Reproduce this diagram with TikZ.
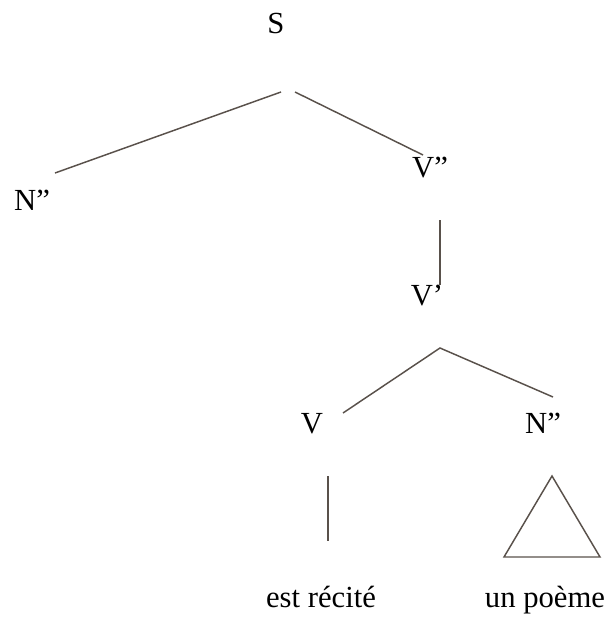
\documentclass[tikz,border=0pt]{standalone}
\usepackage{fontspec}
\setmainfont{Liberation Serif}
\definecolor{branch}{RGB}{89,81,75}

\begin{document}
\begin{tikzpicture}[
  x=0.75pt, y=-0.75pt,
  cat/.style={anchor=base, inner sep=0pt, font=\fontsize{23}{27}\selectfont},
  link/.style={draw=branch, line width=1.1pt},
]
  \useasboundingbox (0,0) rectangle (608,621);

  % ═══ Category labels (placed on their baselines) ═══
  \node[cat] (s)     at (276,33)  {S};
  \node[cat] (np_s)  at (32,210)  {N”};
  \node[cat] (vpp)   at (430,177) {V”};
  \node[cat] (vp)    at (427,305) {V’};
  \node[cat] (v)     at (312,433) {V};
  \node[cat] (np_o)  at (543,433) {N”};
  % Words
  \node[cat] (w_v)   at (321,607) {est récité};
  \node[cat] (w_np)  at (545,607) {un poème};

  % ═══ Branch end points ═══
  \coordinate (s_l)    at (281,92);
  \coordinate (np_s_t) at (55,173);
  \coordinate (s_r)    at (295,92);
  \coordinate (vpp_t)  at (423,155);
  \coordinate (vpp_b)  at (440,220);
  \coordinate (vp_t)   at (440,285);
  \coordinate (vp_b)   at (440,348);
  \coordinate (v_t)    at (343,413);
  \coordinate (np_o_t) at (553,397);
  \coordinate (v_b)    at (328,476);
  \coordinate (w_v_t)  at (328,541);
  \coordinate (tri_t)  at (552,476);
  \coordinate (tri_l)  at (504,557);
  \coordinate (tri_r)  at (600,557);

  % ═══ Branches ═══
  \draw[link] (s_l) -- (np_s_t);
  \draw[link] (s_r) -- (vpp_t);
  \draw[link] (vpp_b) -- (vp_t);
  \draw[link] (v_t) -- (vp_b) -- (np_o_t);
  \draw[link] (v_b) -- (w_v_t);
  % Roof over the object phrase
  \draw[link] (tri_t) -- (tri_l) -- (tri_r) -- cycle;
\end{tikzpicture}
\end{document}
